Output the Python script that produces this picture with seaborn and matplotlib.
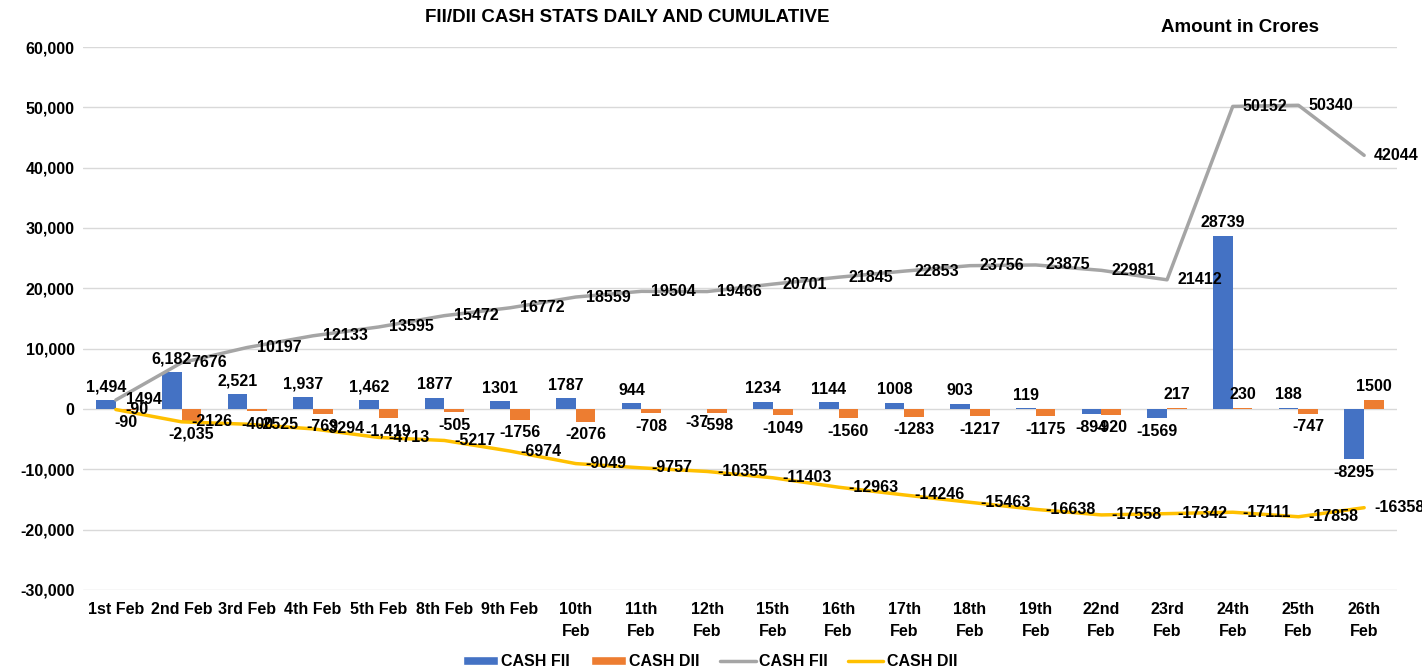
import matplotlib
matplotlib.use("Agg")
import matplotlib.pyplot as plt
from matplotlib.patches import Patch
from matplotlib.lines import Line2D
from matplotlib.ticker import FuncFormatter, MultipleLocator
import pandas as pd
import seaborn as sns

# ---------------------------------------------------------------------
# Data (amount in crores)
# ---------------------------------------------------------------------
dates = ["1st Feb", "2nd Feb", "3rd Feb", "4th Feb", "5th Feb", "8th Feb",
         "9th Feb", "10th Feb", "11th Feb", "12th Feb", "15th Feb", "16th Feb",
         "17th Feb", "18th Feb", "19th Feb", "22nd Feb", "23rd Feb", "24th Feb",
         "25th Feb", "26th Feb"]
fii_daily = [1494, 6182, 2521, 1937, 1462, 1877, 1301, 1787, 944, -37,
             1234, 1144, 1008, 903, 119, -894, -1569, 28739, 188, -8295]
dii_daily = [-90, -2035, -400, -769, -1419, -505, -1756, -2076, -708, -598,
             -1049, -1560, -1283, -1217, -1175, -920, 217, 230, -747, 1500]
fii_cum = [1494, 7676, 10197, 12133, 13595, 15472, 16772, 18559, 19504, 19466,
           20701, 21845, 22853, 23756, 23875, 22981, 21412, 50152, 50340, 42044]
dii_cum = [-90, -2126, -2525, -3294, -4713, -5217, -6974, -9049, -9757, -10355,
           -11403, -12963, -14246, -15463, -16638, -17558, -17342, -17111,
           -17858, -16358]
# first few daily labels were shown with thousands separators in the source
comma_labels = 5

BLUE, ORANGE, GREY, GOLD = "#4472C4", "#ED7D31", "#A5A5A5", "#FFC000"
FS = 11.5

sns.set_theme(style="white")
plt.rcParams["font.family"] = ["Liberation Sans", "DejaVu Sans"]
plt.rcParams["font.weight"] = "bold"
plt.rcParams["text.color"] = "black"
plt.rcParams["xtick.color"] = "black"
plt.rcParams["ytick.color"] = "black"

fig = plt.figure(figsize=(14.22, 6.72), dpi=100)
ax = fig.add_axes([83 / 1422, 1 - 590 / 672, (1397 - 83) / 1422, (590 - 47) / 672])

n = len(dates)
daily = pd.DataFrame({
    "date": dates * 2,
    "value": fii_daily + dii_daily,
    "series": ["CASH FII"] * n + ["CASH DII"] * n,
})
sns.barplot(data=daily, x="date", y="value", hue="series",
            hue_order=["CASH FII", "CASH DII"],
            palette={"CASH FII": BLUE, "CASH DII": ORANGE},
            width=0.6, saturation=1, linewidth=0, errorbar=None,
            legend=False, ax=ax)

sns.lineplot(x=dates, y=fii_cum, color=GREY, linewidth=2.5, sort=False, ax=ax)
sns.lineplot(x=dates, y=dii_cum, color=GOLD, linewidth=2.5, sort=False, ax=ax)


def fmt(i, v):
    return f"{v:,}" if i < comma_labels else f"{v}"


for cont, vals in zip(ax.containers, [fii_daily, dii_daily]):
    ax.bar_label(cont, labels=[fmt(i, v) for i, v in enumerate(vals)],
                 padding=4, fontsize=FS, fontweight="bold", color="black")

for vals in (fii_cum, dii_cum):
    for d, v in zip(dates, vals):
        ax.annotate(f"{v}", xy=(d, v), xytext=(10, 0), textcoords="offset pixels",
                    ha="left", va="center", fontsize=FS, fontweight="bold",
                    color="black")

ax.set_ylim(-30000, 60000)
ax.set_xlim(-0.5, n - 0.5)
ax.yaxis.set_major_locator(MultipleLocator(10000))
ax.yaxis.set_major_formatter(FuncFormatter(lambda v, p: f"{int(v):,}"))
ax.grid(True, axis="y", color="#D9D9D9", linewidth=1)
ax.set_axisbelow(True)
sns.despine(ax=ax, left=True, bottom=True)
ax.set_xlabel("")
ax.set_ylabel("")
ax.set_xticks(range(n))
ax.set_xticklabels([d if i < 7 else d.replace(" ", "\n") for i, d in enumerate(dates)],
                   fontsize=FS, fontweight="bold", linespacing=1.5)
ax.tick_params(axis="y", labelsize=FS, pad=6, length=0, labelcolor="black")
ax.tick_params(axis="x", pad=9, length=0, labelcolor="black")
for t in ax.get_yticklabels():
    t.set_fontweight("bold")

fig.text(627 / 1422, 1 - 17 / 672, "FII/DII CASH STATS DAILY AND CUMULATIVE",
         ha="center", va="center", fontsize=13.5, fontweight="bold", color="black")
fig.text(1240 / 1422, 1 - 28 / 672, "Amount in Crores",
         ha="center", va="center", fontsize=13.5, fontweight="bold", color="black")

handles = [Patch(facecolor=BLUE, label="CASH FII"),
           Patch(facecolor=ORANGE, label="CASH DII"),
           Line2D([], [], color=GREY, linewidth=2.5, label="CASH FII"),
           Line2D([], [], color=GOLD, linewidth=2.5, label="CASH DII")]
leg = fig.legend(handles=handles, loc="center", bbox_to_anchor=(710 / 1422, 1 - 662 / 672),
                 ncol=4, frameon=False, prop={"size": FS, "weight": "bold"},
                 handlelength=2.2, handleheight=0.5, handletextpad=0.2,
                 columnspacing=1.3)
for t in leg.get_texts():
    t.set_color("black")

fig.savefig("out.png", dpi=100)
